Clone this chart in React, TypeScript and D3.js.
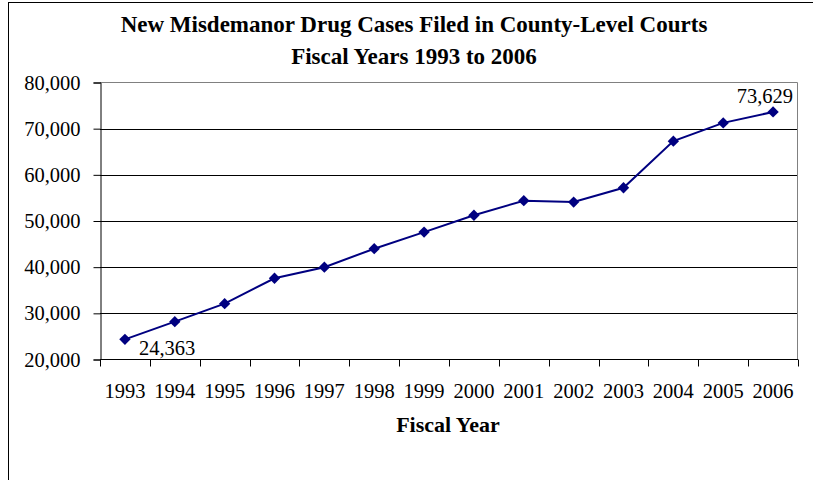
import { useEffect, useRef } from 'react';
import * as d3 from 'd3';

const years = ['1993', '1994', '1995', '1996', '1997', '1998', '1999', '2000', '2001', '2002', '2003', '2004', '2005', '2006'];
const cases = [24363, 28200, 32100, 37600, 40000, 44000, 47600, 51250, 54400, 54100, 57200, 67300, 71250, 73629];
const yTicks = [20000, 30000, 40000, 50000, 60000, 70000, 80000];
const titleLines = ['New Misdemanor Drug Cases Filed in County-Level Courts', 'Fiscal Years 1993 to 2006'];

const W = 813, H = 480;
const FONT = '"Liberation Serif", "Times New Roman", serif';

const App = () => {
  const svgRef = useRef<SVGSVGElement>(null);

  useEffect(() => {
    const svg = d3.select(svgRef.current);
    svg.selectAll('*').remove();

    const left = 100, right = 798, top = 82.5, bottom = 359.5;

    const x = d3.scaleBand().domain(years).range([left, right]);
    const y = d3.scaleLinear().domain([20000, 80000]).range([bottom, top]);

    // outer chart border
    svg.append('rect')
      .attr('x', 8.5).attr('y', 2.5).attr('width', 900).attr('height', 600)
      .attr('fill', 'none').attr('stroke', '#000');

    // title
    svg.append('g').selectAll('text').data(titleLines).enter().append('text')
      .attr('x', 414).attr('y', (d, i) => 32 + i * 32)
      .attr('text-anchor', 'middle')
      .attr('font-family', FONT).attr('font-weight', 'bold').attr('font-size', 23)
      .text(d => d);

    // gridlines
    svg.append('g').selectAll('line').data(yTicks.slice(1, -1)).enter().append('line')
      .attr('x1', left).attr('x2', right)
      .attr('y1', d => Math.round(y(d)) + 0.5).attr('y2', d => Math.round(y(d)) + 0.5)
      .attr('stroke', '#000');

    // plot border top/right
    svg.append('path')
      .attr('d', `M${left},${top}H${right - 0.5}V${bottom}`)
      .attr('fill', 'none').attr('stroke', '#808080');

    // y axis
    const yAxis = svg.append('g').attr('transform', `translate(${left + 0.5},0)`)
      .call(d3.axisLeft(y).tickValues(yTicks).tickSize(7).tickPadding(13).tickFormat(d3.format(',')));
    yAxis.select('.domain').attr('stroke', '#000');
    yAxis.selectAll('text').attr('font-family', FONT).attr('font-size', 20.5).attr('fill', '#000');

    // x axis
    const xAxis = svg.append('g').attr('transform', `translate(0,${bottom})`);
    xAxis.append('line').attr('x1', left).attr('x2', right).attr('stroke', '#000');
    xAxis.selectAll('line.tick').data(d3.range(years.length + 1)).enter().append('line')
      .attr('class', 'tick')
      .attr('x1', i => Math.round(left + i * x.bandwidth()) + 0.5)
      .attr('x2', i => Math.round(left + i * x.bandwidth()) + 0.5)
      .attr('y1', 0).attr('y2', 7).attr('stroke', '#000');
    xAxis.selectAll('text').data(years).enter().append('text')
      .attr('x', d => (x(d) as number) + x.bandwidth() / 2)
      .attr('y', 38)
      .attr('text-anchor', 'middle')
      .attr('font-family', FONT).attr('font-size', 20.5)
      .text(d => d);

    svg.append('text')
      .attr('x', 448).attr('y', 432).attr('text-anchor', 'middle')
      .attr('font-family', FONT).attr('font-weight', 'bold').attr('font-size', 22)
      .text('Fiscal Year');

    // series
    const cx = (i: number) => (x(years[i]) as number) + x.bandwidth() / 2;
    const line = d3.line<number>().x((d, i) => cx(i)).y(d => y(d));
    svg.append('path').datum(cases)
      .attr('d', line).attr('fill', 'none').attr('stroke', '#000080').attr('stroke-width', 2);

    const diamond = d3.symbol().type(d3.symbolDiamond2).size(82);
    svg.append('g').selectAll('path').data(cases).enter().append('path')
      .attr('transform', (d, i) => `translate(${cx(i)},${y(d)})`)
      .attr('d', diamond).attr('fill', '#000080');

    // data labels for first and last points
    const fmt = d3.format(',');
    const last = cases.length - 1;
    svg.append('text')
      .attr('x', cx(0) + 14).attr('y', y(cases[0]) + 16)
      .attr('font-family', FONT).attr('font-size', 20.5)
      .text(fmt(cases[0]));
    svg.append('text')
      .attr('x', cx(last) + 20).attr('y', y(cases[last]) - 9)
      .attr('text-anchor', 'end')
      .attr('font-family', FONT).attr('font-size', 20.5)
      .text(fmt(cases[last]));
  }, []);

  return (
    <div style={{ position: 'absolute', left: 0, top: 0 }}>
      <svg ref={svgRef} width={W} height={H} style={{ display: 'block', background: '#fff' }}></svg>
    </div>
  );
};

export default App;
